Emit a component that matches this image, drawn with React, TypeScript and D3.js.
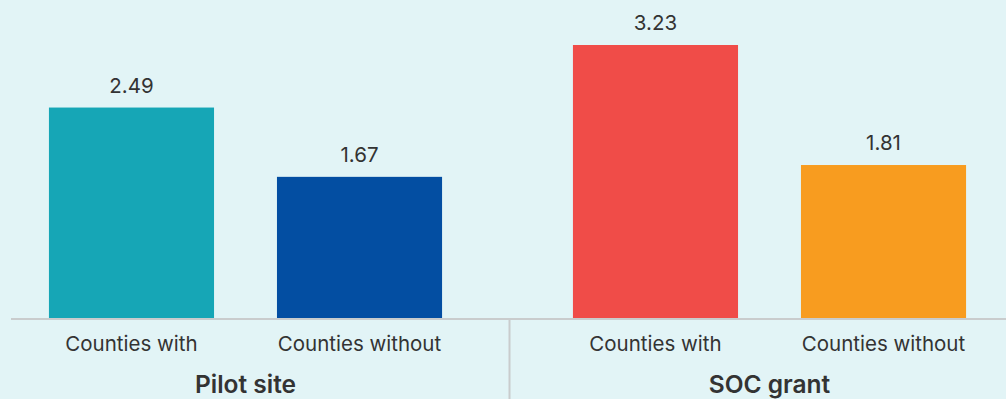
import React from "react";
import * as d3 from "d3";

const groups = ["Pilot site", "SOC grant"];
const subCategories = ["Counties with", "Counties without"];
const pilotValues = [2.49, 1.67];
const socValues = [3.23, 1.81];
const valueLabels = [["2.49", "1.67"], ["3.23", "1.81"]];
const barColors = [["#16a6b6", "#034ea2"], ["#f04c48", "#f89c1f"]];

const W = 1006;
const H = 399;
const baseY = 318;
const FONT = "Inter, 'Open Sans', sans-serif";

export default function App() {
  const series = [pilotValues, socValues];
  const outer = d3.scaleBand<string>().domain(groups).range([-16.5, 1031.5]).padding(0);
  const inner = d3
    .scaleBand<string>()
    .domain(subCategories)
    .range([0, outer.bandwidth()])
    .paddingInner(0.276)
    .paddingOuter(0.287);
  const y = d3.scaleLinear().domain([0, 3.23]).range([baseY, 45]);

  return (
    <svg
      width={W}
      height={H}
      style={{ position: "absolute", left: 0, top: 0, display: "block" }}
      fontFamily={FONT}
    >
      <rect x={0} y={0} width={W} height={H} fill="#e2f4f6" />
      {groups.map((g, gi) => {
        const gx = outer(g)!;
        return (
          <g key={g}>
            {subCategories.map((c, ci) => {
              const v = series[gi][ci];
              const bx = gx + inner(c)!;
              const bw = inner.bandwidth();
              return (
                <g key={c}>
                  <rect x={bx} y={y(v)} width={bw} height={baseY - y(v)} fill={barColors[gi][ci]} />
                  <text
                    x={bx + bw / 2}
                    y={y(v) - 15}
                    textAnchor="middle"
                    fontSize={20.5}
                    fill="#333"
                  >
                    {valueLabels[gi][ci]}
                  </text>
                  <text x={bx + bw / 2} y={351} textAnchor="middle" fontSize={20.5} fill="#333">
                    {c}
                  </text>
                </g>
              );
            })}
            <text
              x={gx + outer.bandwidth() / 2}
              y={393}
              textAnchor="middle"
              fontSize={24.5}
              fontWeight="600"
              fill="#333"
            >
              {g}
            </text>
          </g>
        );
      })}
      <line x1={11} x2={W} y1={319} y2={319} stroke="#c9cccd" strokeWidth={2} />
      <line x1={509.5} x2={509.5} y1={320} y2={H} stroke="#c9cccd" strokeWidth={2} />
    </svg>
  );
}
